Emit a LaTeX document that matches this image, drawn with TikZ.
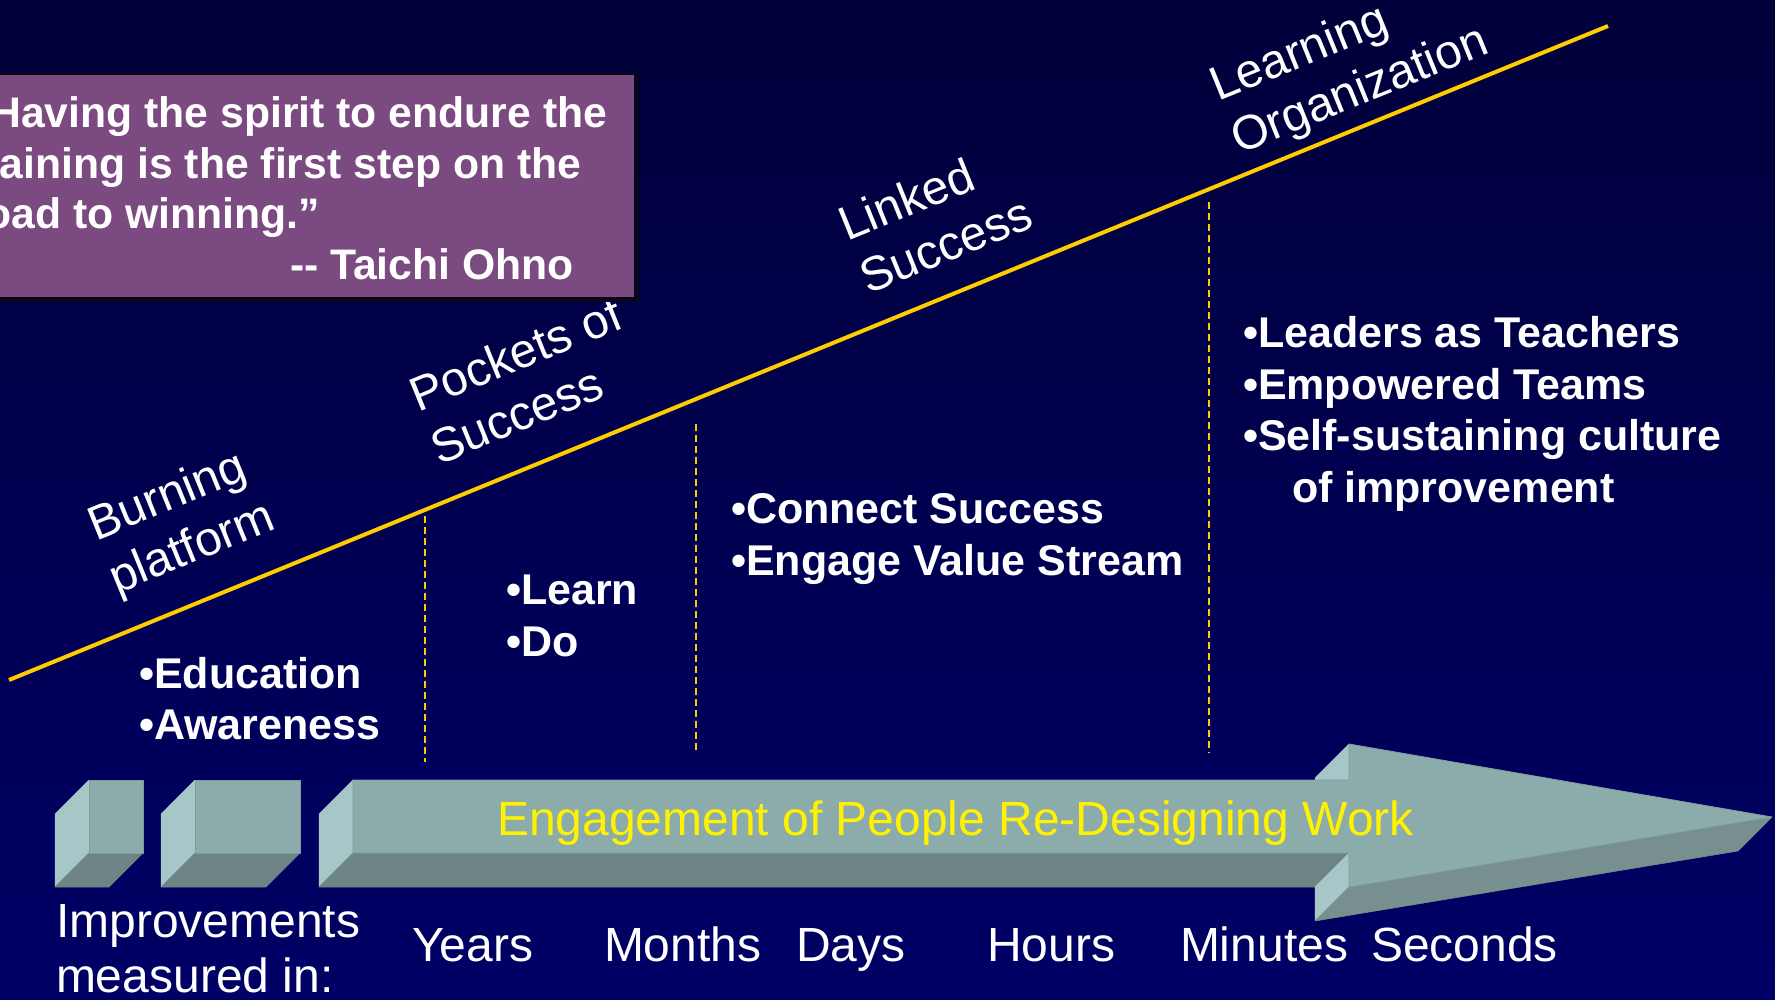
\documentclass[tikz,border=0pt]{standalone}
\usepackage{fontspec}
\setmainfont{Liberation Sans}
\definecolor{bgtop}{RGB}{0,0,58}
\definecolor{bgbot}{RGB}{0,0,102}
\definecolor{gold}{RGB}{255,204,0}
\definecolor{plum}{RGB}{123,74,128}
\definecolor{plumedge}{RGB}{8,6,28}
\definecolor{boxfront}{RGB}{140,171,171}
\definecolor{boxleft}{RGB}{166,198,200}
\definecolor{boxbottom}{RGB}{110,132,132}
\definecolor{boxhead}{RGB}{120,143,143}
\definecolor{boxedge}{RGB}{128,158,158}
\begin{document}
\begin{tikzpicture}[x=1pt,y=-1pt,
  every node/.style={inner sep=0pt, outer sep=0pt},
  labeltxt/.style={anchor=base west, text=white, font=\fontsize{48}{56}\selectfont},
  tilted/.style={labeltxt, rotate=22.15},
  pointtxt/.style={anchor=base west, text=white, font=\bfseries\fontsize{#1}{#1}\selectfont},
  quotetxt/.style={anchor=base west, text=white, font=\bfseries\fontsize{42.7}{50}\selectfont},
  frontface/.style={fill=boxfront, draw=boxedge, line width=0.8pt, line join=round},
  leftface/.style={fill=boxleft, draw=boxleft, line width=0.5pt, line join=round},
  bottomface/.style={fill=boxbottom, draw=boxbottom, line width=0.5pt, line join=round},
  headbottom/.style={fill=boxhead, draw=boxhead, line width=0.5pt, line join=round},
  divider/.style={draw=gold, line width=1.8pt, dash pattern=on 7pt off 4pt},
]
\useasboundingbox (0,0) rectangle (1775,1000);
\clip (0,0) rectangle (1775,1000);

% background
\fill[top color=bgtop, bottom color=bgbot] (0,0) rectangle (1775,1000);

% rising maturity line
\coordinate (riseA) at (9,680);
\coordinate (riseB) at (1608,26);
\draw[gold, line width=4pt] (riseA) -- (riseB);

% stage dividers
\coordinate (d1a) at (425,516); \coordinate (d1b) at (425,762);
\coordinate (d2a) at (696,424); \coordinate (d2b) at (696,753);
\coordinate (d3a) at (1209,202); \coordinate (d3b) at (1209,753);
\draw[divider] (d1a) -- (d1b);
\draw[divider] (d2a) -- (d2b);
\draw[divider] (d3a) -- (d3b);

% stage names along the line
\node[tilted] (burn1) at (96,541) {Burning};
\node[tilted] (burn2) at (117,594) {platform};
\node[tilted] (pock1) at (418,412) {Pockets of};
\node[tilted] (pock2) at (439,465) {Success};
\node[tilted] (link1) at (847,242) {Linked};
\node[tilted] (link2) at (868,295) {Success};
\node[tilted] (lern1) at (1218,102) {Learning};
\node[tilted] (lern2) at (1239,155) {Organization};

% quotation box
\fill[plumedge] (-20,76) rectangle (639,302);
\fill[plum, draw=plumedge, line width=3pt] (-20,74) rectangle (635,299);
\node[quotetxt] (q1) at (-31,128) {“Having the spirit to endure the};
\node[quotetxt] (q2) at (-31,179) {training is the first step on the};
\node[quotetxt] (q3) at (-31,229) {road to winning.”};
\node[quotetxt] (q4) at (290,280) {-{}- Taichi Ohno};

% activities in each stage
\node[pointtxt=43] (e1) at (139,688) {•Education};
\node[pointtxt=43] (e2) at (139,739) {•Awareness};
\node[pointtxt=43] (l1) at (506,604) {•Learn};
\node[pointtxt=43] (l2) at (506,656) {•Do};
\node[pointtxt=43] (c1) at (731,523) {•Connect Success};
\node[pointtxt=43] (c2) at (731,575) {•Engage Value Stream};
\node[pointtxt=43] (t1) at (1243,347) {•Leaders as Teachers};
\node[pointtxt=43] (t2) at (1243,399) {•Empowered Teams};
\node[pointtxt=43] (t3) at (1243,450) {•Self-sustaining culture};
\node[pointtxt=43] (t4) at (1292,502) {of improvement};

% first block
\path[leftface] (89,780) -- (89,853) -- (55,887) -- (55,814) -- cycle;
\path[bottomface] (89,853) -- (143,853) -- (109,887) -- (55,887) -- cycle;
\path[frontface] (89,780) rectangle (143,853);

% second block
\path[leftface] (195,780) -- (195,853) -- (161,887) -- (161,814) -- cycle;
\path[bottomface] (195,853) -- (300,853) -- (266,887) -- (161,887) -- cycle;
\path[frontface] (195,780) rectangle (300,853);

% big arrow: side faces first, then the front face
\path[leftface] (353,780) -- (353,853) -- (319,887) -- (319,814) -- cycle;
\path[bottomface] (353,853) -- (1349,853) -- (1315,887) -- (319,887) -- cycle;
\path[leftface] (1349,744) -- (1349,780) -- (1315,814) -- (1315,778) -- cycle;
\path[leftface] (1349,853) -- (1349,887) -- (1315,921) -- (1315,887) -- cycle;
\path[headbottom] (1349,887) -- (1772,817) -- (1738,851) -- (1315,921) -- cycle;
\path[frontface] (353,780) -- (1349,780) -- (1349,744) -- (1772,817)
  -- (1349,887) -- (1349,853) -- (353,853) -- cycle;
\node[anchor=base west, text=yellow, font=\fontsize{48}{56}\selectfont] (work) at (497,835)
  {Engagement of People Re-Designing Work};

% time scale
\node[labeltxt] (imp1) at (56,937) {Improvements};
\node[labeltxt] (imp2) at (56,992) {measured in:};
\node[labeltxt] (years) at (412,961) {Years};
\node[labeltxt] (months) at (604,961) {Months};
\node[labeltxt] (days) at (796,961) {Days};
\node[labeltxt] (hours) at (987,961) {Hours};
\node[labeltxt] (minutes) at (1180,961) {Minutes};
\node[labeltxt] (seconds) at (1371,961) {Seconds};
\end{tikzpicture}
\end{document}
